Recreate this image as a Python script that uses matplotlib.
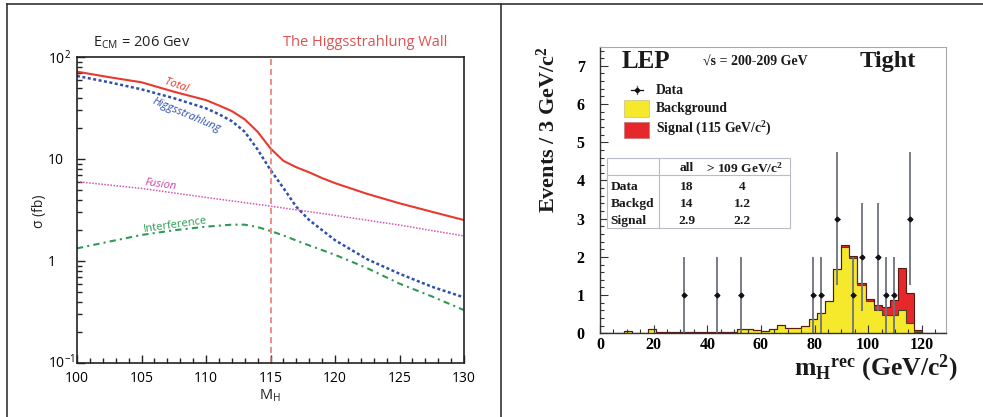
import numpy as np
import matplotlib
matplotlib.use("Agg")
import matplotlib.pyplot as plt
from matplotlib.ticker import MultipleLocator, FixedLocator, NullFormatter
from matplotlib.patches import Rectangle
from matplotlib.lines import Line2D
from matplotlib.transforms import ScaledTranslation

plt.rcParams["mathtext.default"] = "regular"
plt.rcParams["font.family"] = ["Open Sans", "DejaVu Sans"]

# ---------------- cross sections vs Higgs mass (fb) ----------------
mh_total = [100, 102.5, 105, 107.5, 110, 111, 112, 113, 114, 115, 116, 117,
            118, 119, 120, 122.5, 125, 127.5, 130]
xs_total = [71.8, 63.4, 56.5, 45.7, 37.8, 33.5, 29.5, 24.5, 18.5, 12.7, 9.6,
            8.3, 7.4, 6.5, 5.8, 4.55, 3.68, 3.04, 2.52]

mh_hz = [100, 102.5, 105, 107.5, 110, 111, 112, 113, 114, 115, 116, 117,
         118, 120, 122.5, 125, 127.5, 130]
xs_hz = [65.2, 56.5, 48.2, 39.5, 31.4, 27.5, 23.5, 18.5, 12.4, 7.8, 5.2, 3.4,
         2.52, 1.6, 1.04, 0.75, 0.56, 0.44]

mh_fusion = [100, 105, 110, 115, 120, 125, 130]
xs_fusion = [6.0, 5.15, 4.2, 3.45, 2.8, 2.25, 1.76]

mh_interf = [100, 102.5, 105, 107.5, 110, 111, 112, 113, 114, 115, 116, 117.5,
             120, 122.5, 125, 127.5, 130]
xs_interf = [1.33, 1.55, 1.8, 2.0, 2.17, 2.22, 2.27, 2.27, 2.15, 1.97, 1.78,
             1.5, 1.15, 0.85, 0.60, 0.45, 0.33]

mh_limit = 115
ytick_vals = [0.1, 1, 10, 100]
ytick_text = ["10$^{-1}$", "1", "10", "10$^{2}$"]

# ---------------- LEP reconstructed mass histogram ----------------
bin_edges = np.arange(0, 130, 3)
background = np.array([
    0, 0, 0, 0.07, 0.01, 0.01, 0.11, 0.035, 0.04, 0.04,
    0.03, 0.03, 0.04, 0.04, 0.03, 0.04, 0.04, 0.11, 0.11, 0.09,
    0.06, 0.12, 0.22, 0.13, 0.13, 0.19, 0.37, 0.54, 0.85, 1.67,
    2.27, 1.98, 1.27, 0.85, 0.61, 0.48, 0.48, 0.61, 0.26, 0.03,
    0.01, 0, 0])
signal = np.array([
    0, 0, 0, 0, 0, 0, 0, 0, 0, 0,
    0, 0, 0, 0, 0, 0, 0, 0, 0, 0,
    0, 0, 0, 0, 0, 0, 0, 0, 0, 0,
    0.03, 0.04, 0.05, 0.05, 0.13, 0.20, 0.39, 1.10, 0.80, 0.06,
    0, 0, 0])
data_mass = [31.5, 43.5, 52.5, 79.5, 82.5, 88.5, 94.5, 97.5, 103.5, 106.5,
             109.5, 115.5]
data_events = [1, 1, 1, 1, 1, 3, 1, 2, 2, 1, 1, 3]

table_cols = ["all", "> 109 GeV/c$^{2}$"]
table_rows = ["Data", "Backgd", "Signal"]
table_cells = [["18", "4"], ["14", "1.2"], ["2.9", "2.2"]]

W, H = 983, 417
fig = plt.figure(figsize=(W / 100, H / 100), dpi=100)
fig.patch.set_facecolor("white")


def P(x, y):
    """Pixel position (from top-left) to figure fraction."""
    return (x / W, 1 - y / H)


# outer frame and panel divider
for xs, ys in [((7, 983), (4, 4)), ((7, 7), (4, 417)), ((501, 501), (4, 417))]:
    fig.add_artist(Line2D([x / W for x in xs], [1 - y / H for y in ys],
                          transform=fig.transFigure, color="#333333", lw=1.2))

# ================= left panel =================
ax1 = fig.add_axes([77 / W, 1 - 363 / H, 387 / W, 306 / H])
ax1.set_yscale("log")
ax1.set_xlim(100, 130)
ax1.set_ylim(0.1, 100)

ax1.plot(mh_fusion, xs_fusion, color="#d455b4", lw=1.1, ls=(0, (1, 1)))
ax1.plot(mh_interf, xs_interf, color="#2e9a55", lw=1.5, ls=(0, (3, 2, 1, 2)))
ax1.plot(mh_hz, xs_hz, color="#2f4fb0", lw=1.8, ls=(0, (1.2, 1)))
ax1.plot(mh_total, xs_total, color="#e8392e", lw=1.5)
ax1.axvline(mh_limit, color="#e8706a", lw=1.1, ls=(0, (4, 2.5)))

ax1.text(107.7, 52, "Total", color="#e8392e", fontsize=8, style="italic",
         rotation=-19, ha="center", va="center")
ax1.text(108.5, 27, "Higgsstrahlung", color="#2f4fb0", fontsize=8,
         style="italic", rotation=-23, ha="center", va="center")
ax1.text(106.5, 5.65, "Fusion", color="#cc44aa", fontsize=8, style="italic",
         rotation=-8, ha="center", va="center")
ax1.text(107.6, 2.25, "Interference", color="#2e9a55", fontsize=8,
         rotation=8, ha="center", va="center")

ax1.xaxis.set_major_locator(MultipleLocator(5))
ax1.xaxis.set_minor_locator(MultipleLocator(1))
ax1.yaxis.set_major_locator(FixedLocator(ytick_vals))
ax1.yaxis.set_minor_locator(FixedLocator(
    [m * d for d in (0.1, 1, 10) for m in range(2, 10)]))
ax1.yaxis.set_minor_formatter(NullFormatter())
ax1.set_yticklabels(ytick_text)
ax1.tick_params(which="both", direction="in", top=False, right=False,
                color="#222222", width=1, labelsize=10)
ax1.tick_params(which="major", length=6)
ax1.tick_params(which="minor", length=3.5)
ax1.tick_params(axis="x", pad=5.5)
ax1.tick_params(axis="y", pad=21)
ylabels = ax1.get_yticklabels()
for lab in ylabels:
    lab.set_horizontalalignment("left")
# lift the lowest decade label a little so it clears the x labels
ylabels[0].set_transform(ylabels[0].get_transform() +
                         ScaledTranslation(0, 2.5 / 100, fig.dpi_scale_trans))
for sp in ax1.spines.values():
    sp.set_color("#222222")
    sp.set_linewidth(1.2)

fig.text(*P(92.7, 43), "E$_{CM}$ = 206 Gev", fontsize=10.5, ha="left",
         va="center", color="#222222")
fig.text(*P(365, 43), "The Higgsstrahlung Wall", fontsize=10.5,
         ha="center", va="center", color="#e05252")
fig.text(*P(40, 211), "σ (fb)", fontsize=10, rotation=90, ha="center",
         va="center", color="#222222")
fig.text(*P(270, 396), "M$_{H}$", fontsize=10.5, ha="center", va="center",
         color="#222222")

# ================= right panel =================
serif = ["Liberation Serif", "DejaVu Serif"]
ax2 = fig.add_axes([600 / W, 1 - 333.3 / H, 346 / W, 286.6 / H])
ax2.set_xlim(0, 129)
ax2.set_ylim(0, 7.5)

total = background + signal
ax2.stairs(background, bin_edges, fill=True, facecolor="#f6e82a",
           edgecolor="none")
ax2.stairs(total, bin_edges, baseline=background, fill=True,
           facecolor="#e6282b", edgecolor="none")
ax2.stairs(background, bin_edges, color="#4a4520", lw=0.8)
ax2.stairs(total, bin_edges, color="#5a1a14", lw=0.8)

err = np.sqrt(data_events)
ax2.errorbar(data_mass, data_events, yerr=err, fmt="none", ecolor="#6d737c",
             elinewidth=1.3, capsize=0)
ax2.errorbar(data_mass, data_events, xerr=1.0, fmt="D", ms=2.4,
             color="#111111", elinewidth=0.9, capsize=0)

ax2.xaxis.set_major_locator(MultipleLocator(20))
ax2.xaxis.set_minor_locator(MultipleLocator(5))
ax2.yaxis.set_major_locator(MultipleLocator(1))
ax2.yaxis.set_minor_locator(MultipleLocator(0.2))
ax2.tick_params(which="both", direction="in", top=False, right=False,
                color="#333333", width=0.8)
ax2.tick_params(which="major", length=6)
ax2.tick_params(which="minor", length=3)
ax2.tick_params(axis="x", pad=3)
ax2.tick_params(axis="y", pad=11)
for lab in ax2.get_xticklabels() + ax2.get_yticklabels():
    lab.set_family(serif)
    lab.set_weight("bold")
    lab.set_fontsize(11.5)
for side in ("left", "bottom"):
    ax2.spines[side].set_color("#333333")
    ax2.spines[side].set_linewidth(1.0)
for side in ("top", "right"):
    ax2.spines[side].set_color("#a8a8a8")
    ax2.spines[side].set_linewidth(0.8)

bold = dict(family=serif, weight="bold", color="#1a1a1a")
fig.text(*P(622, 61), "LEP", fontsize=18, ha="left", va="center", **bold)
fig.text(*P(703, 62), "√s = 200-209 GeV", fontsize=10, ha="left",
         va="center", **bold)
fig.text(*P(860, 61), "Tight", fontsize=17.5, ha="left", va="center", **bold)

# legend
fig.add_artist(Line2D([631 / W, 643 / W], [1 - 90 / H] * 2,
                      transform=fig.transFigure, color="#111111", lw=0.9))
fig.add_artist(Line2D([637 / W, 637 / W], [1 - 86 / H, 1 - 94 / H],
                      transform=fig.transFigure, color="#666666", lw=0.9))
fig.add_artist(Line2D([637 / W], [1 - 90 / H], transform=fig.transFigure,
                      marker="D", ms=2.4, color="#111111"))
fig.add_artist(Rectangle(P(624, 117), 25 / W, 17 / H, transform=fig.transFigure,
                         facecolor="#f6e82a", edgecolor="#cfc88a", lw=0.6))
fig.add_artist(Rectangle(P(624, 138), 25 / W, 16 / H, transform=fig.transFigure,
                         facecolor="#e6282b", edgecolor="#c87a7a", lw=0.6))
fig.text(*P(656, 90), "Data", fontsize=9.8, ha="left", va="center", **bold)
fig.text(*P(656, 109), "Background", fontsize=9.8, ha="left", va="center",
         **bold)
fig.text(*P(656, 129), "Signal (115 GeV/c$^{2}$)", fontsize=9.8, ha="left",
         va="center", **bold)

# summary table
tx0, tx1, ty0, ty1 = 607.3, 790, 158.3, 227.7
fig.add_artist(Rectangle(P(tx0, ty1), (tx1 - tx0) / W, (ty1 - ty0) / H,
                         transform=fig.transFigure, facecolor="white",
                         edgecolor="#b8bcc4", lw=0.8))
fig.add_artist(Line2D([659.3 / W] * 2, [1 - ty0 / H, 1 - ty1 / H],
                      transform=fig.transFigure, color="#b8bcc4", lw=0.8))
fig.add_artist(Line2D([tx0 / W, tx1 / W], [1 - 175 / H] * 2,
                      transform=fig.transFigure, color="#b8bcc4", lw=0.8))
col_x = [686.7, 745]
row_y = [186.7, 203.5, 220.5]
for cx, name in zip(col_x, table_cols):
    fig.text(*P(cx, 168.5), name, fontsize=9.7, ha="center", va="center",
             **bold)
for ry, name, cells in zip(row_y, table_rows, table_cells):
    fig.text(*P(610.5, ry), name, fontsize=9.7, ha="left", va="center",
             **bold)
    for cx, val in zip(col_x, cells):
        fig.text(*P(cx - (2.7 if cx > 700 else 0), ry), val, fontsize=9.7,
                 ha="center", va="center", **bold)

fig.text(*P(548, 130), "Events / 3 GeV/c$^{2}$", fontsize=16, rotation=90,
         ha="center", va="center", **bold)
fig.text(*P(876, 368), "m$_{H}$$^{rec}$ (GeV/c$^{2}$)", fontsize=18.5,
         ha="center", va="center", **bold)

fig.savefig("out.png", dpi=100, facecolor="white")
